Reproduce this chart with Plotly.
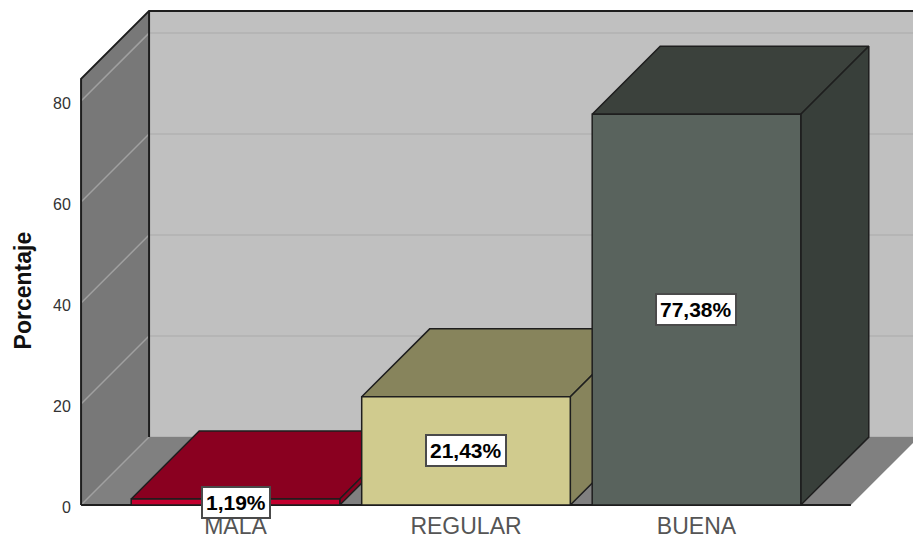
import plotly.graph_objects as go

categorias = ['MALA', 'REGULAR', 'BUENA']
porcentajes = [1.19, 21.43, 77.38]
etiquetas = ['1,19%', '21,43%', '77,38%']
y_ticks = [0, 20, 40, 60, 80]

color_frente = ['#c4002f', '#d0cb8e', '#59635d']
color_arriba = ['#8a0020', '#87845c', '#3b413c']
color_lado = ['#8a0020', '#87845c', '#383f3a']

# profundidad del efecto 3D, en unidades de cada eje
DX = 0.295
DY = 13.45
ANCHO = 0.905
X_MIN = -0.67
X_MAX = 2.67
Y_TECHO = 84.4
BORDE = '#1e1e1e'

fig = go.Figure()


def poligono(xs, ys, relleno, linea=None, grosor=1.5):
    fig.add_trace(go.Scatter(
        x=xs + xs[:1],
        y=ys + ys[:1],
        mode='lines',
        fill='toself',
        fillcolor=relleno,
        line=dict(color=linea or relleno, width=grosor if linea else 0),
        hoverinfo='skip',
        showlegend=False
    ))


def linea(xs, ys, color, grosor):
    fig.add_trace(go.Scatter(
        x=xs,
        y=ys,
        mode='lines',
        line=dict(color=color, width=grosor),
        hoverinfo='skip',
        showlegend=False
    ))


# paredes y piso
poligono([X_MIN + DX, 3.2, 3.2, X_MIN + DX], [DY, DY, Y_TECHO + DY, Y_TECHO + DY], '#c0c0c0')
for v in y_ticks:
    linea([X_MIN + DX, 3.2], [v + DY, v + DY], '#b2b2b2', 1.5)
poligono([X_MIN, X_MAX, X_MAX + DX, X_MIN + DX], [0, 0, DY, DY], '#808080')
poligono([X_MIN, X_MIN + DX, X_MIN + DX, X_MIN], [0, DY, Y_TECHO + DY, Y_TECHO], '#787878')
for v in y_ticks:
    linea([X_MIN, X_MIN + DX], [v, v + DY], '#a0a0a0', 1.5)

linea([X_MIN, X_MIN, X_MIN + DX, 3.2], [0, Y_TECHO, Y_TECHO + DY, Y_TECHO + DY], BORDE, 2)
linea([X_MIN + DX, X_MIN + DX], [DY, Y_TECHO + DY], BORDE, 2)
linea([X_MIN, X_MAX], [0, 0], BORDE, 2)

# barras, de izquierda a derecha para que se tapen bien
for i, valor in enumerate(porcentajes):
    izq = i - ANCHO / 2
    der = i + ANCHO / 2
    poligono([izq, der, der + DX, izq + DX], [valor, valor, valor + DY, valor + DY], color_arriba[i], BORDE)
    poligono([der, der + DX, der + DX, der], [0, DY, valor + DY, valor], color_lado[i], BORDE)
    poligono([izq, der, der, izq], [0, 0, valor, valor], color_frente[i], BORDE)

for i, valor in enumerate(porcentajes):
    fig.add_annotation(
        x=i,
        y=valor / 2,
        text='<b>' + etiquetas[i] + '</b>',
        showarrow=False,
        font=dict(family='Liberation Sans', size=21, color='#000000'),
        bgcolor='#ffffff',
        bordercolor='#4a4a4a',
        borderwidth=2,
        borderpad=3
    )

# titulo del eje como anotacion: en el original no esta centrado en el eje
fig.add_annotation(
    xref='paper',
    yref='y',
    x=0,
    y=42.5,
    xshift=-70,
    text='<b>Porcentaje</b>',
    textangle=-90,
    showarrow=False,
    font=dict(family='Liberation Sans', size=23, color='#111111')
)

fig.update_layout(
    width=913,
    height=540,
    margin=dict(l=78, r=0, t=8, b=32),
    paper_bgcolor='#ffffff',
    plot_bgcolor='#ffffff',
    showlegend=False,
    font=dict(family='Liberation Sans', color='#333333'),
    xaxis=dict(
        range=[-0.6833, 2.9393],
        automargin=False,
        tickmode='array',
        tickvals=list(range(len(categorias))),
        ticktext=categorias,
        tickfont=dict(size=23, color='#555555'),
        showgrid=False,
        zeroline=False,
        ticks='',
        ticklen=0,
        ticklabelstandoff=2
    ),
    yaxis=dict(
        range=[-0.594, 98.42],
        automargin=False,
        tickmode='array',
        tickvals=y_ticks,
        ticktext=[str(v) for v in y_ticks],
        tickfont=dict(size=16, color='#333333'),
        ticklabelshift=2,
        showgrid=False,
        zeroline=False,
        ticks='outside',
        ticklen=3,
        tickcolor='rgba(0,0,0,0)'
    )
)

fig.write_html('out.html', config=dict(displayModeBar=False), post_script="document.body.style.margin='0';")
